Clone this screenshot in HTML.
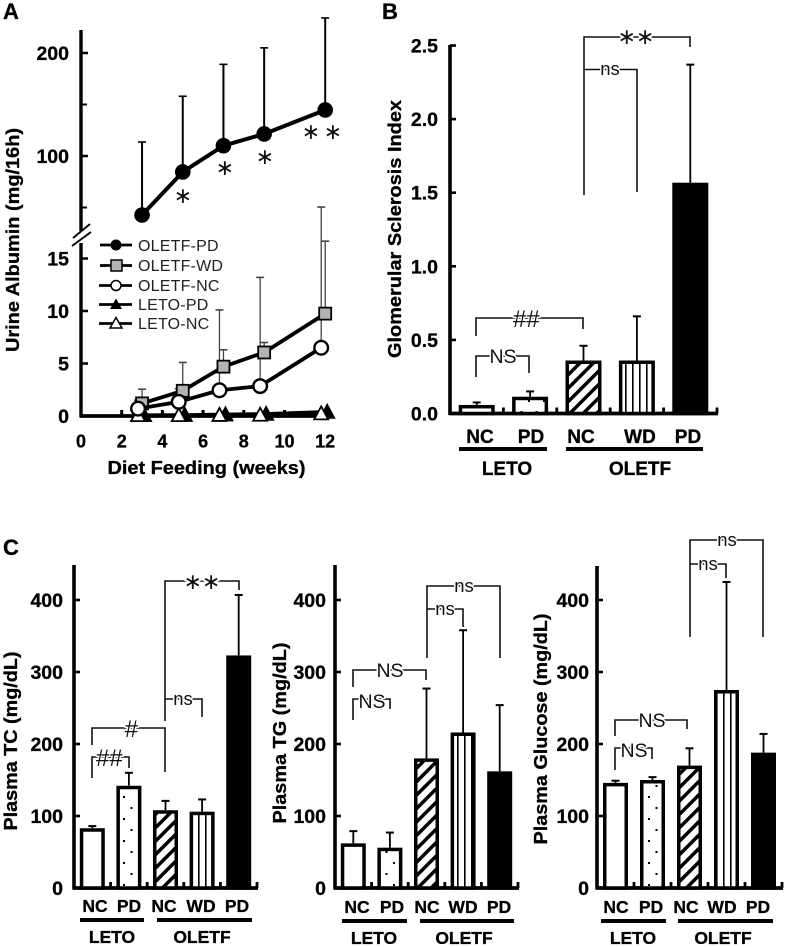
<!DOCTYPE html>
<html lang="en">
<head>
<meta charset="utf-8">
<title>Urine albumin, glomerular sclerosis and plasma measures</title>
<style>
html,body{margin:0;padding:0;background:#fff;}
svg{display:block;font-family:"Liberation Sans",Arial,sans-serif;}
.panel-letter{font-weight:bold;font-size:22px;stroke:#000;stroke-width:.3px;}
.title{font-weight:bold;font-size:18px;stroke:#000;stroke-width:.3px;}
.tick{font-weight:bold;font-size:19.5px;text-anchor:end;stroke:#000;stroke-width:.3px;}
.cat{font-weight:bold;text-anchor:middle;stroke:#000;stroke-width:.3px;}
.group{font-weight:bold;text-anchor:middle;stroke:#000;stroke-width:.3px;}
.br{fill:none;stroke:#111;stroke-width:1.6;}
.an{text-anchor:middle;fill:#111;paint-order:stroke;stroke:#fff;stroke-width:3px;stroke-linejoin:round;}
.ns{font-size:18.5px;}
.NS{font-size:19.5px;}
.hash{font-size:24px;font-style:italic;}
.star{font-family:"DejaVu Sans",sans-serif;font-size:22px;text-anchor:middle;fill:#111;}
.leg{font-size:16px;fill:#222;letter-spacing:.2px;}
</style>
</head>
<body>
<svg id="fig" xmlns="http://www.w3.org/2000/svg" width="785" height="947" viewBox="0 0 785 947">
<defs>
  <pattern id="hatch" patternUnits="userSpaceOnUse" width="9.5" height="9.5" patternTransform="rotate(45)"><rect width="9.5" height="9.5" fill="#fff"/><rect width="3.5" height="9.5" fill="#000"/></pattern>
  <pattern id="vert" patternUnits="userSpaceOnUse" width="7" height="10"><rect width="7" height="10" fill="#fff"/><rect x="2" width="1.6" height="10" fill="#000"/></pattern>
  <pattern id="dots" patternUnits="userSpaceOnUse" width="15" height="22"><rect width="15" height="22" fill="#fff"/><rect x="3" y="4" width="2" height="2" fill="#000"/><rect x="10.5" y="15" width="2" height="2" fill="#000"/></pattern>
</defs>
<rect width="785" height="947" fill="#fff"/>

<text class="panel-letter" x="3" y="19">A</text>
<text class="panel-letter" x="382" y="19">B</text>
<text class="panel-letter" x="3" y="555">C</text>

<text class="title" transform="translate(19,240) rotate(-90)" text-anchor="middle" textLength="224" lengthAdjust="spacingAndGlyphs">Urine Albumin (mg/16h)</text>
<text class="title" x="206.5" y="474" text-anchor="middle" textLength="198" lengthAdjust="spacingAndGlyphs">Diet Feeding (weeks)</text>
<text class="title" transform="translate(401,229) rotate(-90)" text-anchor="middle" textLength="258" lengthAdjust="spacingAndGlyphs">Glomerular Sclerosis Index</text>
<text class="title" transform="translate(17,741) rotate(-90)" text-anchor="middle" textLength="179" lengthAdjust="spacingAndGlyphs">Plasma TC (mg/dL)</text>
<text class="title" transform="translate(286,733) rotate(-90)" text-anchor="middle" textLength="181" lengthAdjust="spacingAndGlyphs">Plasma TG (mg/dL)</text>
<text class="title" transform="translate(547,729) rotate(-90)" text-anchor="middle" textLength="231" lengthAdjust="spacingAndGlyphs">Plasma Glucose (mg/dL)</text>

<!-- group underlines and labels -->
<g>
  <rect x="459" y="447" width="88" height="4"/><rect x="566" y="447" width="137" height="4"/>
  <text class="group" font-size="19" x="507" y="475">LETO</text><text class="group" font-size="19" x="640" y="475">OLETF</text>
</g>
<g>
  <rect x="80" y="918" width="64" height="4"/><rect x="157" y="918" width="95" height="4"/>
  <text class="group" font-size="17.5" x="112" y="943">LETO</text><text class="group" font-size="17.5" x="202" y="943">OLETF</text>
</g>
<g>
  <rect x="342" y="919" width="65" height="4"/><rect x="420" y="919" width="94" height="4"/>
  <text class="group" font-size="17.5" x="374" y="944">LETO</text><text class="group" font-size="17.5" x="464" y="944">OLETF</text>
</g>
<g>
  <rect x="601" y="919" width="65" height="4"/><rect x="678" y="919" width="95" height="4"/>
  <text class="group" font-size="17.5" x="633" y="944">LETO</text><text class="group" font-size="17.5" x="723" y="944">OLETF</text>
</g>

<g id="plots"></g>

<!-- significance annotations -->
<g>
  <path class="br" d="M476 336V318H583V329"/><text class="an hash" x="526" y="327">##</text>
  <path class="br" d="M476 377V356H529V373"/><text class="an NS" x="503" y="363">NS</text>
  <path class="br" d="M584 195V37H690V47"/><text class="star" x="636" y="44" stroke="#fff" stroke-width="4" paint-order="stroke">∗∗</text>
  <path class="br" d="M584 69.500H637V192"/><text class="an ns" x="610" y="75">ns</text>
</g>
<g>
  <path class="br" d="M92 778V757H129V768"/><text class="an hash" x="109" y="766">##</text>
  <path class="br" d="M92 745V728H165V772"/><text class="an hash" x="131" y="737">#</text>
  <path class="br" d="M165 721V581H239V590"/><text class="star" x="202" y="589" stroke="#fff" stroke-width="4" paint-order="stroke">∗∗</text>
  <path class="br" d="M165 699H202V717"/><text class="an ns" x="183" y="705">ns</text>
</g>
<g>
  <path class="br" d="M353 720V699H390V709"/><text class="an NS" x="372" y="708">NS</text>
  <path class="br" d="M353 687V670H426V680"/><text class="an NS" x="390" y="677">NS</text>
  <path class="br" d="M427 658V586H500V658"/><text class="an ns" x="464" y="592">ns</text>
  <path class="br" d="M427 609H463V627"/><text class="an ns" x="445" y="615">ns</text>
</g>
<g>
  <path class="br" d="M615 770V748H652V759"/><text class="an NS" x="634" y="757">NS</text>
  <path class="br" d="M615 736V720H687V729"/><text class="an NS" x="652" y="727">NS</text>
  <path class="br" d="M690 637V540H763V637"/><text class="an ns" x="727" y="546">ns</text>
  <path class="br" d="M690 564H726V578"/><text class="an ns" x="708" y="570">ns</text>
</g>
<g>
  <text class="star" x="183" y="203">∗</text>
  <text class="star" x="225" y="175">∗</text>
  <text class="star" x="265" y="164">∗</text>
  <text class="star" x="311" y="139">∗</text>
  <text class="star" x="333" y="139">∗</text>
</g>

<!-- legend -->
<g>
  <g><path d="M100 245H132" stroke="#000" stroke-width="2.8"/><circle cx="116" cy="245" r="5.500"/><text class="leg" x="138" y="251">OLETF-PD</text></g>
  <g><path d="M100 265.500H132" stroke="#000" stroke-width="2.800"/><rect x="111" y="260" width="11" height="11" fill="#b3b3b3" stroke="#000" stroke-width="1.500"/><text class="leg" x="138" y="271">OLETF-WD</text></g>
  <g><path d="M99 285.500H132" stroke="#000" stroke-width="2.800"/><circle cx="116" cy="285.500" r="5" fill="#fff" stroke="#000" stroke-width="1.500"/><text class="leg" x="138" y="291">OLETF-NC</text></g>
  <g><path d="M99 304.500H132" stroke="#000" stroke-width="2.800"/><path d="M116 298.500L122 309H110Z"/><text class="leg" x="138" y="310">LETO-PD</text></g>
  <g><path d="M99 323.500H132" stroke="#000" stroke-width="2.800"/><path d="M116 317.500L122 328H110Z" fill="#fff" stroke="#000" stroke-width="1.500"/><text class="leg" x="138" y="329">LETO-NC</text></g>
</g>

<script>
// ---- Panel A data ----
const weeks = [3, 5, 7, 9, 12];
const weekTicks = [0, 2, 4, 6, 8, 10, 12];
const upperMajorTicks = [100, 200];
const upperMinorTicks = [50, 150];
const lowerTicks = [0, 5, 10, 15];
const oletfPd = [42.7, 84.5, 110, 121.4, 144.7];
const oletfPdErr = [113.6, 158, 189, 205, 234];
const oletfWd = [1.2, 2.4, 4.7, 6.05, 9.75];
const oletfWdErr = [2.55, 5.1, 6.3, 7.0, 16.65];
const oletfNc = [0.7, 1.35, 2.45, 2.85, 6.5];
const oletfNcErr = [1.5, 2.6, 10.1, 13.2, 19.9];
const letoPd = [0.08, 0.1, 0.15, 0.2, 0.4];
const letoNc = [0.08, 0.08, 0.1, 0.12, 0.25];

// ---- Panel B data ----
const barCategories = ['NC', 'PD', 'NC', 'WD', 'PD'];
const sclerosisTicks = [0, 0.5, 1, 1.5, 2, 2.5];
const sclerosisTickLabels = ['0.0', '0.5', '1.0', '1.5', '2.0', '2.5'];
const sclerosis = [0.058, 0.114, 0.36, 0.36, 1.568];
const sclerosisErr = [0.075, 0.15, 0.46, 0.66, 2.37];

// ---- Panel C data ----
const plasmaTicks = [0, 100, 200, 300, 400];
const plasmaTc = [83, 142, 108, 106, 323];
const plasmaTcErr = [86, 160, 121, 123, 407];
const plasmaTg = [62, 56, 180, 216, 162];
const plasmaTgErr = [79, 77, 277, 358, 254];
const plasmaGlucose = [146, 150, 170, 275, 188];
const plasmaGlucoseErr = [149, 154, 194, 425, 214];

const barFills = ['#fff', 'url(#dots)', 'url(#hatch)', 'url(#vert)', '#000'];

const NS = 'http://www.w3.org/2000/svg';
const plots = document.getElementById('plots');

function mk(parent, tag, name, attrs, text) {
  const el = document.createElementNS(NS, tag);
  
  
  for (const k in attrs) el.setAttribute(k, attrs[k]);
  if (text !== undefined) el.textContent = text;
  parent.appendChild(el);
  return el;
}
function line(p, name, x1, y1, x2, y2, w, col) {
  return mk(p, 'line', name, {x1: x1, y1: y1, x2: x2, y2: y2, stroke: col || '#000', 'stroke-width': w});
}

// ---- Panel A ----
(function () {
  const g = mk(plots, 'g', 'albumin-chart', {});
  const sx = w => 81 + 20.35 * w;
  const su = v => 156 - (v - 100) * 1.03;
  const sl = v => 416 - v * 10.5;

  line(g, 'upper-y-axis', 81, 30, 81, 231, 3.4);
  line(g, 'lower-y-axis', 81, 243, 81, 417.5, 3.4);
  line(g, 'axis-break-mark', 73, 238, 90, 224, 1.8);
  line(g, 'axis-break-mark', 72, 246, 91, 232, 1.8);
  line(g, 'x-axis', 80, 416, 332, 416, 3.8);

  upperMajorTicks.forEach(v => {
    line(g, 'y-tick-' + v, 81, su(v), 88, su(v), 2.5);
    mk(g, 'text', 'y-tick-label-' + v, {class: 'tick', x: 69, y: su(v) + 7}, String(v));
  });
  upperMinorTicks.forEach(v => {
    line(g, 'y-minor-tick-' + v, 81, su(v), 87, su(v), 2);
  });
  lowerTicks.forEach(v => {
    if (v > 0) line(g, 'y-tick-' + v, 81, sl(v), 88, sl(v), 2.5);
    mk(g, 'text', 'y-tick-label-' + v, {class: 'tick', x: 69, y: sl(v) + 7}, String(v));
  });
  weekTicks.forEach(w => {
    if (w > 0) line(g, 'x-tick-' + w, sx(w), 410, sx(w), 416, 3);
    mk(g, 'text', 'x-tick-label-' + w, {class: 'cat', x: sx(w), y: 447.500, 'font-size': 18}, String(w));
  });

  function err(values, tops, scale, dx, col, w, name) {
    values.forEach((v, i) => {
      const x = sx(weeks[i]) + dx;
      line(g, name + '-error-' + weeks[i], x, scale(v), x, scale(tops[i]), w, col);
      line(g, name + '-error-cap-' + weeks[i], x - 4, scale(tops[i]), x + 4, scale(tops[i]), 1.6, col);
    });
  }
  function path(values, scale, dx, w, name) {
    const d = values.map((v, i) => (i ? 'L' : 'M') + (sx(weeks[i]) + dx) + ' ' + scale(v)).join('');
    mk(g, 'path', name + '-line', {d: d, fill: 'none', stroke: '#000', 'stroke-width': w, 'stroke-linejoin': 'round'});
  }
  function tri(values, scale, dx, fill, name) {
    values.forEach((v, i) => {
      const x = sx(weeks[i]) + dx, y = scale(v);
      mk(g, 'path', name + '-point-' + weeks[i], {
        d: 'M' + x + ' ' + (y - 7) + 'L' + (x + 7) + ' ' + (y + 6) + 'L' + (x - 7) + ' ' + (y + 6) + 'Z',
        fill: fill, stroke: '#000', 'stroke-width': 1.8
      });
    });
  }

  // OLETF-PD (upper)
  err(oletfPd, oletfPdErr, su, 0, '#000', 2, 'oletf-pd');
  path(oletfPd, su, 0, 4, 'oletf-pd');
  oletfPd.forEach((v, i) => {
    mk(g, 'circle', 'oletf-pd-point-' + weeks[i], {cx: sx(weeks[i]), cy: su(v), r: 7.8, fill: '#000'});
  });

  // Lower series
  err(oletfNc, oletfNcErr, sl, -4, '#444', 1.3, 'oletf-nc');
  err(oletfWd, oletfWdErr, sl, 0, '#444', 1.3, 'oletf-wd');
  path(letoPd, sl, 2, 3.5, 'leto-pd');
  tri(letoPd, sl, 2, '#000', 'leto-pd');
  path(letoNc, sl, -4, 2.5, 'leto-nc');
  tri(letoNc, sl, -4, '#fff', 'leto-nc');
  path(oletfWd, sl, 0, 3.8, 'oletf-wd');
  oletfWd.forEach((v, i) => {
    mk(g, 'rect', 'oletf-wd-point-' + weeks[i], {x: sx(weeks[i]) - 6, y: sl(v) - 6, width: 12, height: 12, fill: '#b3b3b3', stroke: '#000', 'stroke-width': 1.8});
  });
  path(oletfNc, sl, -4, 3.8, 'oletf-nc');
  oletfNc.forEach((v, i) => {
    mk(g, 'circle', 'oletf-nc-point-' + weeks[i], {cx: sx(weeks[i]) - 4, cy: sl(v), r: 6.8, fill: '#fff', stroke: '#000', 'stroke-width': 2.4});
  });
})();

// ---- Bar panels ----
function barPanel(c) {
  const g = mk(plots, 'g', c.name + '-chart', {});
  const step = (c.x1 - c.x0) / 5;
  const bx = i => c.x0 + step * (i + 0.5);
  const sy = v => c.y0 - v * c.k;

  line(g, c.name + '-y-axis', c.x0, c.top, c.x0, c.y0 + 1.5, 3.6);
  line(g, c.name + '-x-axis', c.x0 - 1, c.y0, c.x1 + 1, c.y0, 3.8);
  c.ticks.forEach((t, i) => {
    if (t > 0) line(g, c.name + '-y-tick-' + i, c.x0, sy(t), c.x0 + 6, sy(t), 2.6);
    mk(g, 'text', c.name + '-y-tick-label-' + i, {class: 'tick', x: c.tickRight, y: sy(t) + 7}, c.tickLabels[i]);
  });
  for (let i = 1; i <= 5; i++) {
    const x = c.x0 + step * i;
    line(g, c.name + '-x-tick-' + i, x, c.y0 - 6, x, c.y0, 2.8);
  }
  c.values.forEach((v, i) => {
    const x = bx(i), top = sy(v), et = sy(c.errs[i]);
    line(g, c.name + '-error-' + i, x, top, x, et, 1.8);
    line(g, c.name + '-error-cap-' + i, x - 4, et, x + 4, et, 2);
    mk(g, 'rect', c.name + '-bar-' + i, {
      x: x - c.barW / 2 + 1.75, y: top + 1.75,
      width: c.barW - 3.5, height: Math.max(c.y0 - top - 1.75, 0.5),
      fill: barFills[i], stroke: '#000', 'stroke-width': 3.5
    });
  });
  barCategories.forEach((cat, i) => {
    mk(g, 'text', c.name + '-category-' + i, {class: 'cat', x: c.labelX[i], y: c.labelY, 'font-size': c.labelSize}, cat);
  });
}

barPanel({name: 'sclerosis', x0: 450, x1: 717, y0: 413.5, k: 147.2, top: 45, barW: 36,
  ticks: sclerosisTicks, tickLabels: sclerosisTickLabels, tickRight: 438,
  values: sclerosis, errs: sclerosisErr,
  labelX: [480, 531, 581, 640, 688], labelY: 443, labelSize: 19});
barPanel({name: 'tc', x0: 74, x1: 257, y0: 888, k: 0.72, top: 565, barW: 25,
  ticks: plasmaTicks, tickLabels: plasmaTicks.map(String), tickRight: 63,
  values: plasmaTc, errs: plasmaTcErr,
  labelX: [95, 129, 164, 201, 237], labelY: 912, labelSize: 17.5});
barPanel({name: 'tg', x0: 335, x1: 518, y0: 888, k: 0.72, top: 565, barW: 25,
  ticks: plasmaTicks, tickLabels: plasmaTicks.map(String), tickRight: 326,
  values: plasmaTg, errs: plasmaTgErr,
  labelX: [357, 392, 427, 463, 499], labelY: 913, labelSize: 17.5});
barPanel({name: 'glucose', x0: 597, x1: 782, y0: 888, k: 0.72, top: 566, barW: 25,
  ticks: plasmaTicks, tickLabels: plasmaTicks.map(String), tickRight: 589,
  values: plasmaGlucose, errs: plasmaGlucoseErr,
  labelX: [616, 651, 686, 722, 758], labelY: 913, labelSize: 17.5});
</script>
</svg>
</body>
</html>
